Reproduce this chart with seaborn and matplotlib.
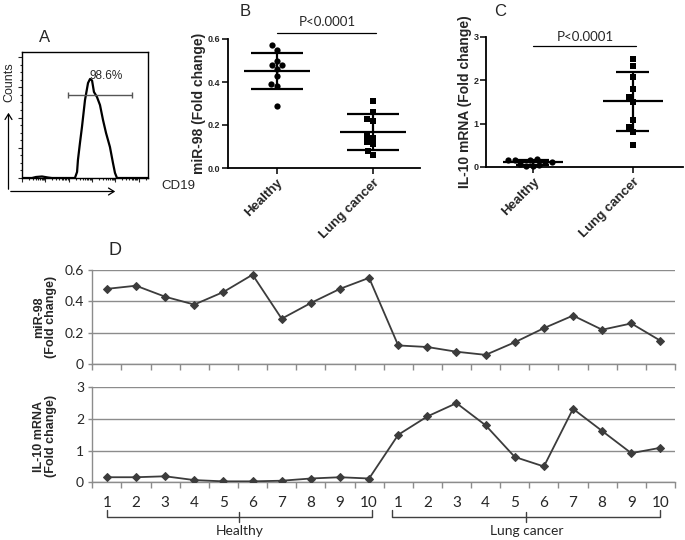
import numpy as np
import pandas as pd
import matplotlib
matplotlib.use('Agg')
import matplotlib.pyplot as plt
import matplotlib.transforms as mtransforms
from matplotlib.patches import FancyArrowPatch
import seaborn as sns

# ── DATA ────────────────────────────────────────────────────
groups = ['Healthy', 'Lung cancer']
mir98_healthy = [0.48, 0.50, 0.43, 0.38, 0.46, 0.57, 0.29, 0.39, 0.48, 0.55]
mir98_cancer  = [0.12, 0.11, 0.08, 0.06, 0.14, 0.23, 0.31, 0.22, 0.26, 0.15]
il10_healthy  = [0.16, 0.16, 0.19, 0.07, 0.03, 0.03, 0.05, 0.12, 0.16, 0.12]
il10_cancer   = [1.50, 2.08, 2.50, 1.80, 0.80, 0.50, 2.32, 1.62, 0.92, 1.09]
sample_labels = [str(i) for i in range(1, 11)] * 2

# flow cytometry histogram, CD19 channel (arbitrary 0-100 units)
cd19_x      = [0, 7.9, 11.1, 15.9, 20.6, 23.8, 42.0, 43.7, 44.4, 46.0, 47.6, 50.0,
               52.4, 54.0, 55.6, 57.1, 59.5, 61.9, 64.3, 66.7, 69.8, 72.2, 73.8, 75.4, 100]
cd19_counts = [0, 0, 0.8, 1.2, 0.4, 0, 0, 4.8, 14.3, 27.8, 40.5, 61.9,
               75.4, 78.6, 77.4, 68.3, 64.3, 57.9, 46.0, 35.7, 24.6, 11.9, 4.0, 0, 0]
gate_range = [36.5, 87.3]
gate_level = 65.9
gate_pct = '98.6%'
p_text = 'P<0.0001'

sns.set_style('ticks')
plt.rcParams['font.family'] = ['Liberation Sans', 'DejaVu Sans']

W, H = 685, 540
fig = plt.figure(figsize=(W / 100, H / 100), dpi=100)


def px_axes(left, top, right, bottom):
    return fig.add_axes([left / W, 1 - bottom / H, (right - left) / W, (bottom - top) / H])


def ftext(x, y, s, **kw):
    fig.text(x / W, 1 - y / H, s, **kw)


# ── A: CD19 histogram ───────────────────────────────────────
axA = px_axes(22, 52, 148, 178)
sns.lineplot(x=cd19_x, y=cd19_counts, ax=axA, color='black', lw=1.6, estimator=None)
axA.errorbar(np.mean(gate_range), gate_level, xerr=(gate_range[1] - gate_range[0]) / 2,
             color='#555555', lw=1, capsize=2.5, capthick=1)
axA.text(66.7, 81, gate_pct, ha='center', va='center', fontsize=8.5)
axA.set_xlim(0, 100)
axA.set_ylim(0, 100)
axA.set_xticks([0, 18.5, 37, 55.5, 74, 92.5])
axA.set_xticks([d * 18.5 + np.log10(k) * 18.5 for d in range(6) for k in range(2, 10)
                if d * 18.5 + np.log10(k) * 18.5 < 100], minor=True)
axA.set_yticks([0, 24, 48, 72, 96])
axA.set_yticks(np.arange(0, 100, 6), minor=True)
axA.tick_params(which='both', direction='out', labelleft=False, labelbottom=False,
                width=0.8, length=3)
axA.tick_params(which='minor', length=1.5)
for sp in axA.spines.values():
    sp.set_linewidth(1)
    sp.set_color('black')

ftext(45, 37, 'A', fontsize=12, ha='center', va='center')
ftext(9, 82, 'Counts', rotation=90, fontsize=9, ha='center', va='center')
ftext(161, 186, 'CD19', fontsize=9.5, ha='left', va='center')
for start, end in [((8.5, 192), (8.5, 110)), ((8, 191.5), (118, 191.5))]:
    fig.add_artist(FancyArrowPatch((start[0] / W, 1 - start[1] / H), (end[0] / W, 1 - end[1] / H),
                                   transform=fig.transFigure, arrowstyle='->,head_length=4,head_width=2.5',
                                   color='black', lw=0.9))


# ── B / C: GraphPad style scatter with mean ± SD ────────────
def dot_panel(ax, healthy, cancer, ylim, yticks, yfmt, ylabel, mean_w, sd_w, pbar_y, ptext_y):
    df = pd.DataFrame({'group': ['Healthy'] * len(healthy) + ['Lung cancer'] * len(cancer),
                       'value': healthy + cancer})
    for g, mk in zip(groups, ['o', 's']):
        sns.swarmplot(data=df[df['group'] == g], x='group', y='value', order=groups,
                      marker=mk, color='black', size=4.5, ax=ax, clip_on=False, zorder=3)
    for i, vals in enumerate([healthy, cancer]):
        m, s = np.mean(vals), np.std(vals, ddof=1)
        ax.hlines(m, i - mean_w, i + mean_w, color='black', lw=1.6, zorder=4)
        ax.hlines([m - s, m + s], i - sd_w, i + sd_w, color='black', lw=1.6, zorder=4)
        ax.vlines(i, m - s, m + s, color='black', lw=1.6, zorder=4)
    ax.set_ylim(*ylim)
    ax.set_yticks(yticks)
    ax.set_yticklabels([yfmt.format(t) for t in yticks], fontweight='bold', fontsize=6.5)
    ax.set_xticks([0, 1])
    ax.set_xticklabels(groups, rotation=45, ha='right', rotation_mode='anchor',
                       fontweight='bold', fontsize=9.5)
    ax.set_xlabel('')
    ax.set_ylabel(ylabel, fontweight='bold', fontsize=10, labelpad=1)
    sns.despine(ax=ax)
    for sp in ['left', 'bottom']:
        ax.spines[sp].set_linewidth(1.3)
        ax.spines[sp].set_color('black')
    ax.tick_params(axis='y', length=4, width=1.3, pad=1.5)
    ax.tick_params(axis='x', length=4, width=1.3, pad=2)
    ax.plot([0, 1.03], [pbar_y, pbar_y], color='black', lw=0.9, clip_on=False)
    ax.text(0.52, ptext_y, p_text, ha='center', va='center', fontsize=9.5, family='Lato')


axB = px_axes(228, 39, 420, 168)
dot_panel(axB, mir98_healthy, mir98_cancer, (0, 0.6), [0, 0.2, 0.4, 0.6], '{:.1f}',
          'miR-98 (Fold change)', 0.34, 0.27, 0.628, 0.68)
axB.set_xlim(-0.51, 1.49)
ftext(245, 11, 'B', fontsize=12, ha='center', va='center')

axC = px_axes(486, 37, 683, 167)
dot_panel(axC, il10_healthy, il10_cancer, (0, 3), [0, 1, 2, 3], '{:.0f}',
          'IL-10 mRNA (Fold change)', 0.30, 0.165, 2.8, 3.0)
axC.set_xlim(-0.47, 1.5)
ftext(500, 11, 'C', fontsize=12, ha='center', va='center')

# ── D: per-sample line charts ───────────────────────────────
idx = np.arange(len(sample_labels))
axT = px_axes(92.3, 270, 675, 364.3)
axL = px_axes(92.3, 387.3, 675, 482.3)
line_col = '#3c3c3c'
grid_col = '#8c8c8c'
for ax, vals, ylim, yticks, ylabs in [
        (axT, mir98_healthy + mir98_cancer, (0, 0.6), [0, 0.2, 0.4, 0.6], ['0', '0.2', '0.4', '0.6']),
        (axL, il10_healthy + il10_cancer, (0, 3), [0, 1, 2, 3], ['0', '1', '2', '3'])]:
    sns.lineplot(x=idx, y=vals, ax=ax, color=line_col, lw=1.3, marker='D', markersize=4.5,
                 markeredgecolor=line_col, estimator=None, zorder=3)
    ax.set_xlim(-0.5, len(idx) - 0.5)
    ax.set_ylim(*ylim)
    ax.set_yticks(yticks)
    ax.set_yticklabels(ylabs, fontsize=10, family='Lato')
    ax.yaxis.grid(True, color=grid_col, lw=1)
    ax.set_axisbelow(True)
    ax.set_xticks(idx)
    ax.set_xticks(np.arange(-0.5, len(idx)), minor=True)
    ax.tick_params(axis='x', which='major', length=0)
    ax.tick_params(axis='x', which='minor', length=4, width=1, color=grid_col, direction='out')
    ax.tick_params(axis='y', length=3, width=1, color=grid_col, pad=3)
    sns.despine(ax=ax)
    for sp in ['left', 'bottom']:
        ax.spines[sp].set_color(grid_col)
        ax.spines[sp].set_linewidth(1)
    ax.set_xlabel('')
    ax.set_ylabel('')

axT.set_xticklabels([])
axL.set_xticklabels(sample_labels, fontsize=11, family='Lato')
axL.tick_params(axis='x', which='major', pad=10)

ftext(45, 317, 'miR-98\n(Fold change)', rotation=90, ha='center', va='center',
      fontweight='bold', fontsize=9, linespacing=1.05)
ftext(45, 436, 'IL-10 mRNA\n(Fold change)', rotation=90, ha='center', va='center',
      fontweight='bold', fontsize=9, linespacing=1.05)
ftext(115, 250, 'D', fontsize=13, ha='center', va='center')

# group braces under the sample numbers
trans = mtransforms.blended_transform_factory(axL.transData, axL.transAxes)
for name, x0, x1 in [('Healthy', 0.0, 9.1), ('Lung cancer', 9.8, 19.0)]:
    xm = (x0 + x1) / 2
    axL.plot([x0, x0, x1, x1], [-0.29, -0.365, -0.365, -0.29], transform=trans,
             clip_on=False, color='#404040', lw=1)
    axL.plot([xm, xm], [-0.31, -0.42], transform=trans, clip_on=False, color='#404040', lw=1)
    axL.text(xm, -0.515, name, transform=trans, ha='center', va='center',
             fontsize=10, family='Lato')

plt.savefig('out.png', dpi=100)
